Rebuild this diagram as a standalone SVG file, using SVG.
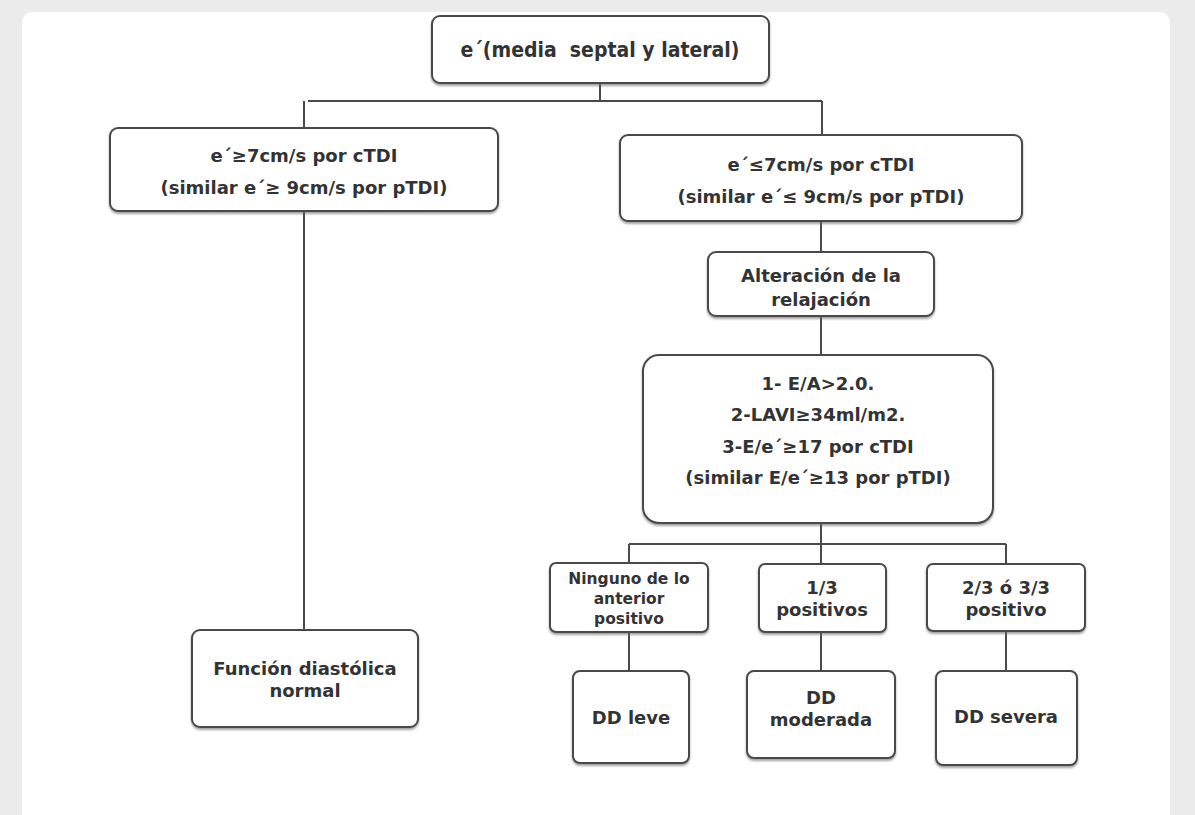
<svg xmlns="http://www.w3.org/2000/svg" width="1195" height="815" viewBox="0 0 1195 815">
<style>
.bx{fill:#fff;stroke:#4a4a4a;stroke-width:2;filter:url(#sh)}
.t{font-family:"DejaVu Sans",Verdana,sans-serif;font-weight:bold;font-size:18px;fill:#333;text-anchor:middle}
.s{font-size:15.5px}
.c{font-family:"DejaVu Sans Condensed","DejaVu Sans",sans-serif;font-size:21px;white-space:pre}
.ln{stroke:#4a4a4a;stroke-width:2;fill:none}
</style>
<defs>
<filter id="sh" x="-10%" y="-10%" width="120%" height="130%">
<feDropShadow dx="0" dy="2" stdDeviation="1" flood-color="#666" flood-opacity="0.6"/>
</filter>
</defs>
<rect width="1195" height="815" fill="#ebebeb"/>
<rect x="22" y="12" width="1148" height="820" rx="10" fill="#fff"/>
<g id="connectors">
<path class="ln" d="M600 83V101M308 101H822M304 101V128M822 101V135"/>
<path class="ln" d="M304 211V630"/>
<path class="ln" d="M821 221V252M821 316V355"/>
<path class="ln" d="M821 523V544M629 544H1006M629 544V563M821 544V564M1006 544V564"/>
<path class="ln" d="M629 632V671M821 632V671M1006 632V671"/>
</g>
<g id="n-top"><rect class="bx" x="432" y="16" width="337" height="67" rx="8"/><text class="t c" x="600" y="57" xml:space="preserve">e´(media  septal y lateral)</text></g>
<g id="n-left"><rect class="bx" x="110" y="128" width="388" height="83" rx="8"/><text class="t" x="304" y="162">e´≥7cm/s por cTDI</text><text class="t" x="304" y="194">(similar e´≥ 9cm/s por pTDI)</text></g>
<g id="n-right"><rect class="bx" x="620" y="135" width="402" height="86" rx="8"/><text class="t" x="821" y="171">e´≤7cm/s por cTDI</text><text class="t" x="821" y="203">(similar e´≤ 9cm/s por pTDI)</text></g>
<g id="n-normal"><rect class="bx" x="192" y="630" width="226" height="97" rx="8"/><text class="t" x="305" y="675">Función diastólica</text><text class="t" x="305" y="697">normal</text></g>
<g id="n-alt"><rect class="bx" x="708" y="252" width="226" height="64" rx="8"/><text class="t" x="821" y="282">Alteración de la</text><text class="t" x="821" y="306">relajación</text></g>
<g id="n-crit"><rect class="bx" x="643" y="355" width="350" height="168" rx="16"/>
<text class="t" x="818" y="390">1- E/A&gt;2.0.</text>
<text class="t" x="818" y="421">2-LAVI≥34ml/m2.</text>
<text class="t" x="818" y="453">3-E/e´≥17 por cTDI</text>
<text class="t" x="818" y="484">(similar E/e´≥13 por pTDI)</text></g>
<g id="n-none"><rect class="bx" x="550" y="563" width="158" height="69" rx="6"/><text class="t s" x="629" y="584">Ninguno de lo</text><text class="t s" x="629" y="604">anterior</text><text class="t s" x="629" y="624">positivo</text></g>
<g id="n-one"><rect class="bx" x="759" y="564" width="127" height="68" rx="6"/><text class="t" x="822" y="594">1/3</text><text class="t" x="822" y="616">positivos</text></g>
<g id="n-two"><rect class="bx" x="927" y="564" width="158" height="67" rx="6"/><text class="t" x="1006" y="594">2/3 ó 3/3</text><text class="t" x="1006" y="616">positivo</text></g>
<g id="n-leve"><rect class="bx" x="573" y="671" width="116" height="92" rx="7"/><text class="t" x="631" y="724">DD leve</text></g>
<g id="n-mod"><rect class="bx" x="747" y="671" width="148" height="87" rx="7"/><text class="t" x="821" y="704">DD</text><text class="t" x="821" y="726">moderada</text></g>
<g id="n-sev"><rect class="bx" x="936" y="671" width="141" height="94" rx="7"/><text class="t" x="1006" y="723">DD severa</text></g>
</svg>
